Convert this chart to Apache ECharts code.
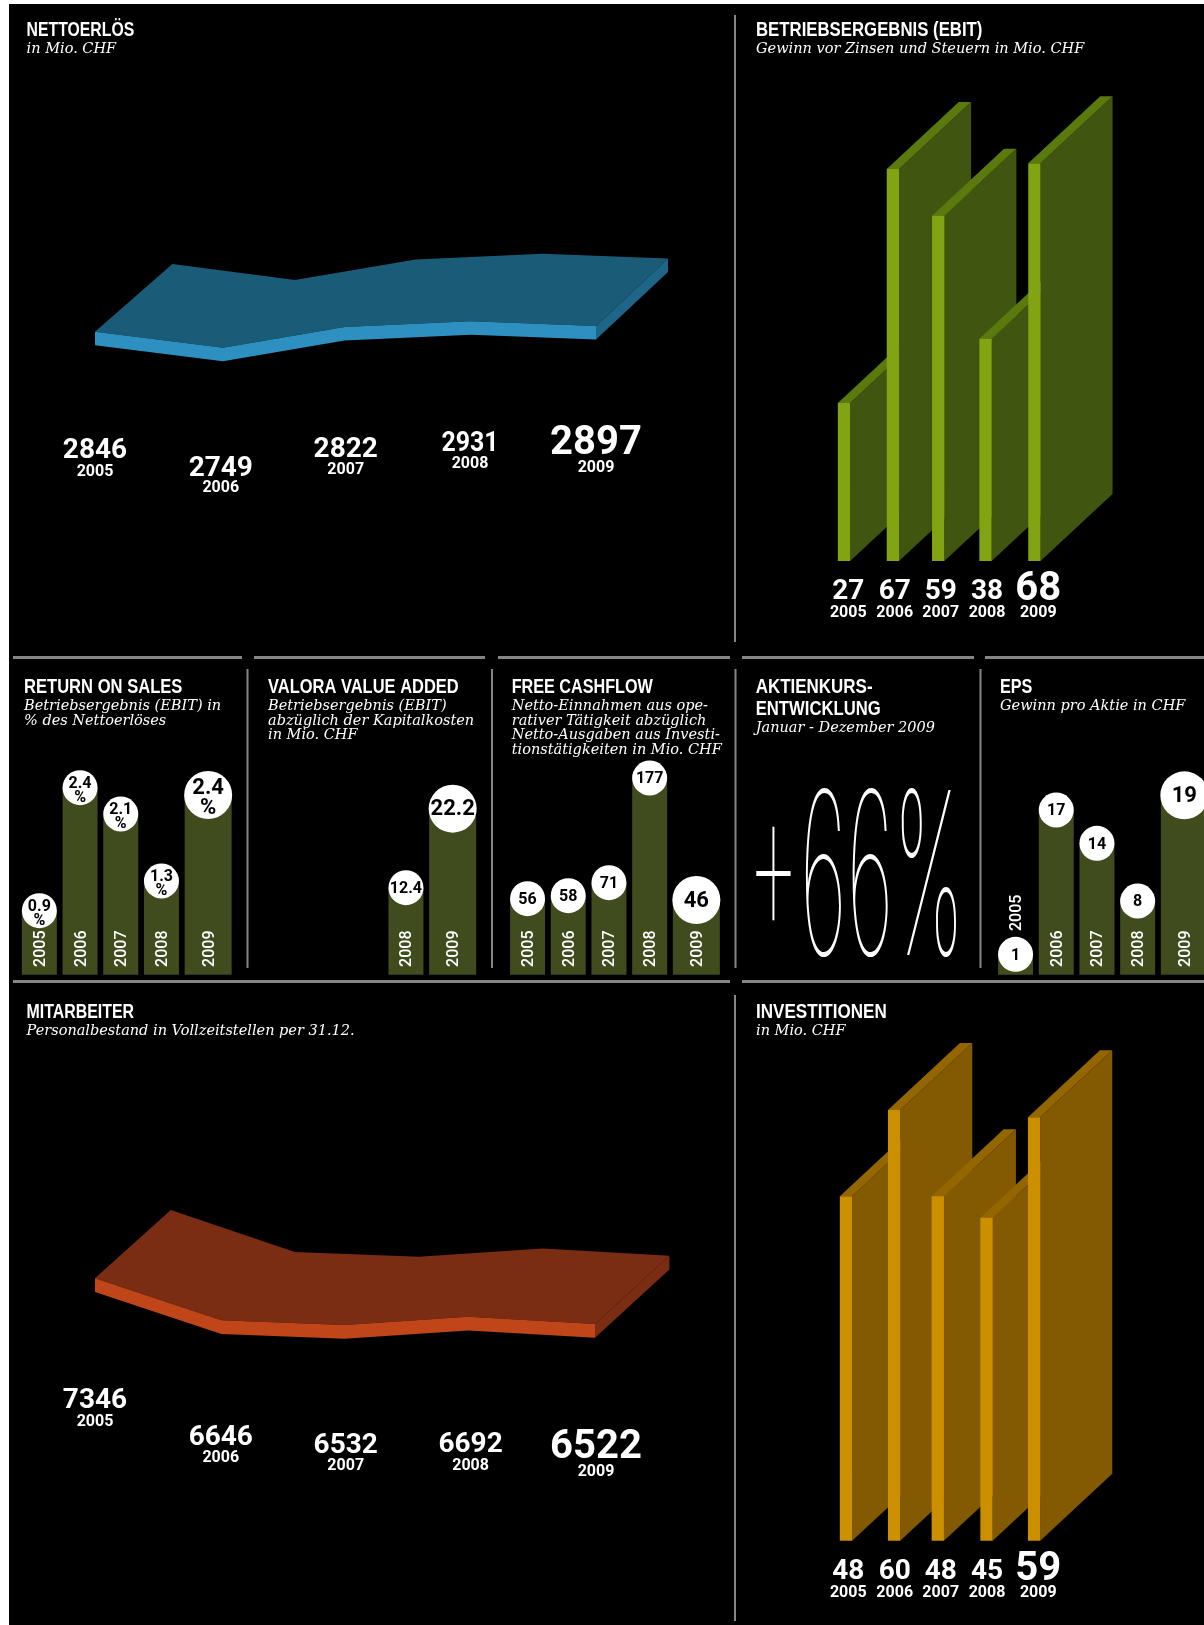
<!DOCTYPE html>
<html>
<head>
<meta charset="utf-8">
<title>Valora Kennzahlen</title>
<script src="https://cdn.jsdelivr.net/npm/echarts@6/dist/echarts.min.js"></script>
<style>
  html, body { margin: 0; padding: 0; background: #fff; }
  #chart { width: 1204px; height: 1625px; }
</style>
</head>
<body>
<div id="chart"></div>
<script>
const years = [2005, 2006, 2007, 2008, 2009];

// printed figures
const netSales = [2846, 2749, 2822, 2931, 2897];
const ebit = [27, 67, 59, 38, 68];
const returnOnSales = [0.9, 2.4, 2.1, 1.3, 2.4];
const valueAdded = [null, null, null, 12.4, 22.2];
const freeCashflow = [56, 58, 71, 177, 46];
const eps = [1, 17, 14, 8, 19];
const employees = [7346, 6646, 6532, 6692, 6522];
const investments = [48, 60, 48, 45, 59];

// heights of the drawn marks, read off the picture where they don't follow the printed figure
const netSalesLevel = [29.3, 13.3, 34, 39.7, 35];
const employeesLevel = [61.7, 19.7, 15, 23.3, 16];
const returnOnSalesBar = [64, 187, 160.7, 93.7, 179.7];
const valueAddedBar = [null, null, null, 87, 166];
const freeCashflowBar = [76, 79, 92, 196.7, 74.7];
const epsBar = [20.4, 164.7, 131.4, 73.7, 179.4];

const TITLE = 'bold 19.5px Liberation Sans';
const SUB = 'italic 14.5px DejaVu Serif, serif';
const NUM = 'bold 28px Roboto';
const NUM_BIG = 'bold 40px Roboto';
const YEAR = 'bold 16px Roboto';
const GREY = '#858585';

const graphic = [];

function text(str, x, y, font, opt) {
  opt = opt || {};
  graphic.push({
    type: 'text', x: x, y: y, z: 10,
    scaleX: opt.sx || 1, scaleY: opt.sy || 1,
    style: {
      text: str, x: 0, y: 0, font: font, fill: opt.fill || '#fff',
      stroke: opt.stroke, lineWidth: opt.lineWidth,
      textAlign: opt.align || 'center', textVerticalAlign: 'middle'
    }
  });
}

function block(x, y, w, h, fill) {
  graphic.push({ type: 'rect', z: 5, shape: { x: x, y: y, width: w, height: h }, style: { fill: fill } });
}

// titles is a list of [text, horizontal squeeze]
function heading(x, y, titles, subLines) {
  titles.forEach((t, i) => text(t[0], x, y + 2 + i * 21.6, TITLE, { align: 'left', sx: t[1] }));
  const subY = y + 1 + (titles.length - 1) * 21.6 + 19.5;
  subLines.forEach((t, i) => text(t, x, subY + i * 14.6, SUB, { align: 'left' }));
}

function figures(values, xs, ys, yearYs, squeeze) {
  values.forEach((v, i) => {
    const isBig = i === 4;
    text(String(v), xs[i], ys[i] + (isBig ? 5 : 3.5), isBig ? NUM_BIG : NUM, { sx: squeeze && squeeze[i] });
    text(String(years[i]), xs[i], yearYs[i] + 1.5, YEAR);
  });
}

// page frame
block(0, 0, 1204, 4, '#fff');
block(0, 0, 9, 1625, '#fff');

// rules
[[13, 229], [254, 231], [498, 232], [742, 232], [985, 219]].forEach(r => block(r[0], 656, r[1], 3, GREY));
[[13, 717], [742, 462]].forEach(r => block(r[0], 980, r[1], 3, GREY));
block(734, 15, 2, 627, GREY);
block(734, 995, 2, 626, GREY);
[246.5, 491, 734.5, 979.5].forEach(x => block(x, 669, 2, 299, GREY));

// headings
heading(26.6, 28.7, [['NETTOERLÖS', 0.81]], ['in Mio. CHF']);
heading(756, 29, [['BETRIEBSERGEBNIS (EBIT)', 0.86]], ['Gewinn vor Zinsen und Steuern in Mio. CHF']);
heading(24, 685.7, [['RETURN ON SALES', 0.85]], ['Betriebsergebnis (EBIT) in', '% des Nettoerlöses']);
heading(268, 685.7, [['VALORA VALUE ADDED', 0.845]], ['Betriebsergebnis (EBIT)', 'abzüglich der Kapitalkosten', 'in Mio. CHF']);
heading(511.7, 685.7, [['FREE CASHFLOW', 0.83]], ['Netto-Einnahmen aus ope-', 'rativer Tätigkeit abzüglich', 'Netto-Ausgaben aus Investi-', 'tionstätigkeiten in Mio. CHF']);
heading(755.7, 685.7, [['AKTIENKURS-', 0.87], ['ENTWICKLUNG', 0.855]], ['Januar - Dezember 2009']);
heading(1000, 685.7, [['EPS', 0.83]], ['Gewinn pro Aktie in CHF']);
heading(26.6, 1011, [['MITARBEITER', 0.815]], ['Personalbestand in Vollzeitstellen per 31.12.']);
heading(756, 1011, [['INVESTITIONEN', 0.875]], ['in Mio. CHF']);

// share price, the black outline eats the glyphs down to hairlines
text('+66%', 855.5, 887, '100 100px Inter', { sx: 0.83, sy: 2.27, stroke: '#000', lineWidth: 1 });

// printed figures under the 3d charts
figures(netSales, [95, 220.8, 345.7, 470, 596], [447.3, 465, 446.7, 440.7, 439.3], [470.7, 486.7, 468.3, 462.7, 466.7], [1, 1, 1, 0.89, 1]);
figures(employees, [95, 220.8, 345.7, 470.6, 596], [1397.7, 1434, 1442.7, 1441.7, 1443.3], [1420.7, 1456.7, 1464.3, 1464.3, 1470.7]);
const wallLabelX = [848.3, 894.7, 940.7, 987, 1038.3];
figures(ebit, wallLabelX, [588.7, 588.7, 588.7, 588.7, 584.6], [611.5, 611.5, 611.5, 611.5, 611.5]);
figures(investments, wallLabelX, [1568.8, 1568.8, 1568.8, 1568.8, 1564.7], [1591.4, 1591.4, 1591.4, 1591.4, 1591.4]);

function polygon(points, fill) {
  return { type: 'polygon', shape: { points: points }, style: { fill: fill } };
}

// flat band seen from above, drawn once from all its points
function slabItem(levels, nudge, depthX, depthY, thick, colors) {
  return function (params, api) {
    if (params.dataIndex !== 0) return;
    const front = levels.map((v, i) => {
      const p = api.coord([years[i], v]);
      return [p[0] + nudge[i], p[1]];
    });
    const back = front.map((p, i) => [p[0] + depthX[i], p[1] - depthY]);
    const under = front.map(p => [p[0], p[1] + thick]);
    const last = front[front.length - 1];
    const lastBack = back[back.length - 1];
    return {
      type: 'group',
      children: [
        polygon(front.concat(back.slice().reverse()), colors.top),
        polygon(front.concat(under.slice().reverse()), colors.front),
        polygon([last, lastBack, [lastBack[0], lastBack[1] + thick], [last[0], last[1] + thick]], colors.side)
      ]
    };
  };
}

// upright slab, only the width of the front face comes from here
function wallItem(nudge, colors) {
  return function (params, api) {
    const w = 12.3, depthX = 72, depthY = 67;
    const top = api.coord([api.value(0), api.value(1)]);
    const base = api.coord([api.value(0), 0]);
    const x = top[0] + nudge[params.dataIndex];
    const l = x - w / 2, r = x + w / 2;
    return {
      type: 'group',
      children: [
        polygon([[r, top[1]], [r + depthX, top[1] - depthY], [r + depthX, base[1] - depthY], [r, base[1]]], colors.side),
        polygon([[l, top[1]], [l + depthX, top[1] - depthY], [r + depthX, top[1] - depthY], [r, top[1]]], colors.top),
        polygon([[l, top[1]], [r, top[1]], [r, base[1]], [l, base[1]]], colors.front)
      ]
    };
  };
}

// small bar with bubble on top, the last one of each panel is the big one
function bubbleItem(format, twoLines) {
  return function (params, api) {
    const i = params.dataIndex;
    const h = api.value(1);
    if (isNaN(h)) return;
    const big = i === 4;
    const shift = big ? 6 : 0;
    const top = api.coord([i, h]);
    const base = api.coord([i, 0]);
    const x = top[0] + shift;
    const w = big ? 47 : 35;
    const r = big ? 24 : 17.5;
    const yearY = h < 45 ? top[1] - r - 24 : base[1] - 26;
    return {
      type: 'group',
      children: [
        { type: 'rect', shape: { x: x - w / 2, y: top[1], width: w, height: base[1] - top[1] }, style: { fill: '#404b1e' } },
        {
          type: 'text', x: x + 1.5, y: yearY, rotation: Math.PI / 2,
          style: { text: String(years[i]), x: 0, y: 0, font: '500 16px Roboto', fill: '#fff', textAlign: 'center', textVerticalAlign: 'middle' }
        },
        { type: 'circle', shape: { cx: x, cy: top[1], r: r }, style: { fill: '#fff' } },
        {
          type: 'text',
          style: {
            text: format(api.value(2)), x: x, y: top[1] + (twoLines ? 3 : 1.2),
            font: big ? 'bold 22px Roboto' : 'bold 16px Roboto', lineHeight: big ? 20 : 14,
            fill: '#000', textAlign: 'center', textVerticalAlign: 'middle'
          }
        }
      ]
    };
  };
}

// [left, top, width, height] of each plot
const plots = {
  sales: [95, 261, 501, 100],
  ebit: [820.25, 93, 237.5, 468],
  ros: [19, 674.7, 203.5, 300],
  vva: [263.5, 674.7, 203.5, 300],
  fcf: [507.2, 674.7, 203.5, 300],
  eps: [995.2, 674.7, 203.5, 300],
  staff: [95, 1240, 500, 100],
  invest: [822.45, 1038.2, 235.5, 502.6]
};
const plotNames = Object.keys(plots);

const grid = plotNames.map(n => ({
  left: plots[n][0], top: plots[n][1], width: plots[n][2], height: plots[n][3], containLabel: false
}));

const slabAxis = { type: 'value', min: 2005, max: 2009, show: false };
const catAxis = { type: 'category', data: years, show: false };
const xAxis = plotNames.map((n, i) => Object.assign({ gridIndex: i }, n === 'sales' || n === 'staff' ? slabAxis : catAxis));
const yMax = { sales: 100, staff: 100, ebit: 80, invest: 70, ros: 300, vva: 300, fcf: 300, eps: 300 };
const yAxis = plotNames.map((n, i) => ({ gridIndex: i, type: 'value', min: 0, max: yMax[n], show: false }));

function series(name, renderItem, data) {
  const idx = plotNames.indexOf(name);
  return { type: 'custom', name: name, xAxisIndex: idx, yAxisIndex: idx, renderItem: renderItem, data: data, clip: false, silent: true, animation: false };
}

const bubbleData = (heights, values) => heights.map((h, i) => [i, h === null ? '-' : h, values[i]]);
const plain = v => String(v);

const option = {
  animation: false,
  backgroundColor: '#000',
  tooltip: { show: false },
  grid: grid,
  xAxis: xAxis,
  yAxis: yAxis,
  graphic: { elements: graphic },
  series: [
    series('sales', slabItem(netSalesLevel, [0, 2.7, -0.9, 0, 0], [77.4, 72, 71, 72, 72], 67.6, 13.5, { top: '#1a5c77', front: '#2d90c0', side: '#1f6588' }), netSalesLevel.map((v, i) => [years[i], v])),
    series('staff', slabItem(employeesLevel, [0, 1.3, -0.6, -1.7, 0], [75.8, 73.5, 74.3, 74.4, 74.4], 68.3, 13.7, { top: '#7b2d13', front: '#c04518', side: '#7b2d13' }), employeesLevel.map((v, i) => [years[i], v])),
    series('ebit', wallItem([0, 1.4, -0.8, -1, 0.4], { front: '#82a312', side: '#3f5510', top: '#5a7a0e' }), ebit.map((v, i) => [i, v])),
    series('invest', wallItem([0, 1, -2.4, -0.8, -0.3], { front: '#cc8f00', side: '#835a02', top: '#946600' }), investments.map((v, i) => [i, v])),
    series('ros', bubbleItem(v => v + '\n%', true), bubbleData(returnOnSalesBar, returnOnSales)),
    series('vva', bubbleItem(plain), bubbleData(valueAddedBar, valueAdded)),
    series('fcf', bubbleItem(plain), bubbleData(freeCashflowBar, freeCashflow)),
    series('eps', bubbleItem(plain), bubbleData(epsBar, eps))
  ]
};

const chart = echarts.init(document.getElementById('chart'));
chart.setOption(option);
</script>
</body>
</html>
